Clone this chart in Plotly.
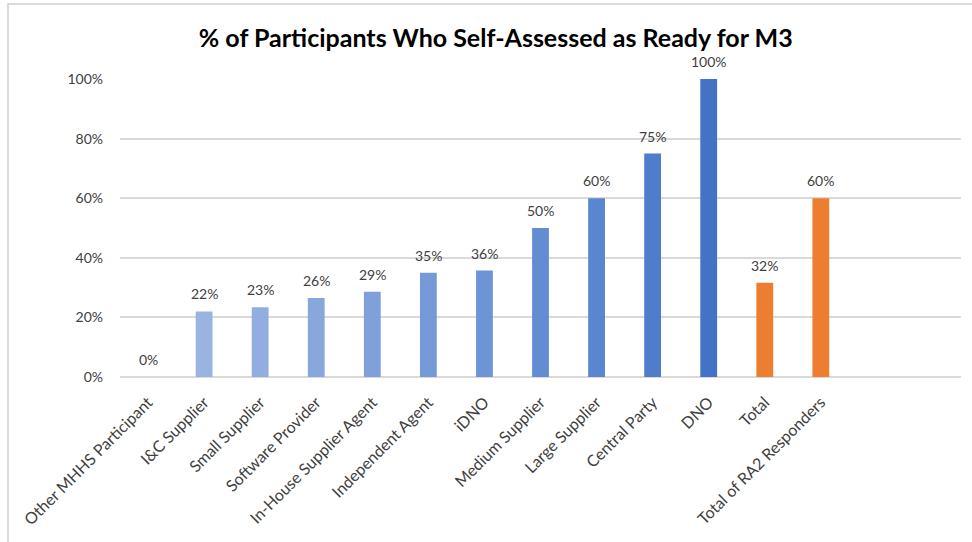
import plotly.graph_objects as go

categories = ["Other MHHS Participant", "I&C Supplier", "Small Supplier", "Software Provider",
              "In-House Supplier Agent", "Independent Agent", "iDNO", "Medium Supplier",
              "Large Supplier", "Central Party", "DNO", "Total", "Total of RA2 Responders"]
values = [0.0, 0.22, 0.234, 0.265, 0.286, 0.35, 0.357, 0.50, 0.60, 0.75, 1.00, 0.316, 0.60]
labels = ["0%", "22%", "23%", "26%", "29%", "35%", "36%", "50%", "60%", "75%", "100%", "32%", "60%"]
colors = ["#A4BCE5", "#9AB4E2", "#92AEE0", "#88A7DD", "#7FA0DA", "#769AD8", "#6D94D5",
          "#638CD2", "#5A86D0", "#4F7DCB", "#4472C4", "#ED7D31", "#ED7D31"]
y_ticks = [0, 0.2, 0.4, 0.6, 0.8, 1.0]
y_tick_text = ["0%", "20%", "40%", "60%", "80%", "100%"]

W, H = 972, 542
L, R, T, B = 120, 11, 79, 165
pw, ph = W - L - R, H - T - B

x_pos = list(range(len(categories)))

fig = go.Figure(go.Bar(
    x=x_pos, y=values, marker=dict(color=colors, line=dict(width=0)),
    width=0.3, cliponaxis=False,
))

for xi, yi, lab in zip(x_pos, values, labels):
    fig.add_annotation(x=xi, y=yi, text=lab, showarrow=False, xanchor="center",
                       yanchor="bottom", yshift=7,
                       font=dict(family="Lato", size=14, color="#404040"))

def px_x(p):
    return (p - L) / pw

def px_y(p):
    return (H - B - p) / ph

fig.update_layout(
    width=W, height=H, margin=dict(l=L, r=R, t=T, b=B),
    paper_bgcolor="white", plot_bgcolor="white", showlegend=False,
    title=dict(text="<b>% of Participants Who Self-Assessed as Ready for M3</b>",
               x=0.51, xanchor="center", y=1 - 38 / H, yanchor="middle",
               font=dict(family="Lato", size=25, color="#000000")),
    xaxis=dict(range=[-0.5, 14.5], tickmode="array", tickvals=x_pos, ticktext=categories,
               tickangle=-45, showgrid=False, zeroline=False, showline=False, ticks="",
               ticklabelstandoff=12,
               tickfont=dict(family="Lato", size=16, color="#404040")),
    yaxis=dict(range=[0, 1.0], tickmode="array", tickvals=y_ticks, ticktext=y_tick_text,
               showgrid=True, gridcolor="#D9D9D9", gridwidth=1.5, zeroline=True,
               zerolinecolor="#D9D9D9", zerolinewidth=1.5, showline=False, ticks="",
               ticklabelstandoff=16,
               tickfont=dict(family="Lato", size=14, color="#404040")),
    bargap=0.7,
    shapes=[dict(type="rect", xref="paper", yref="paper",
                 x0=px_x(8), x1=px_x(990), y0=px_y(560), y1=px_y(4),
                 line=dict(color="#D0D0D0", width=1.5), fillcolor="rgba(0,0,0,0)", layer="below")],
)

fig.write_html("out.html")
